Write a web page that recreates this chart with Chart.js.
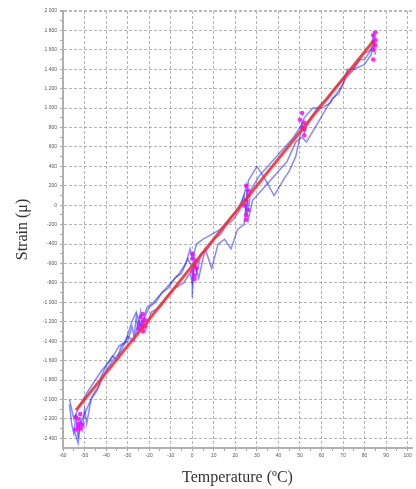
<!DOCTYPE html>
<html>
<head>
<meta charset="utf-8">
<title>Strain vs Temperature</title>
<script src="https://cdn.jsdelivr.net/npm/chart.js@4.4.1/dist/chart.umd.min.js"></script>
<style>
    html, body { margin: 0; padding: 0; background: #ffffff; }
    #chart { display: block; }
</style>
</head>
<body>
<canvas id="chart" width="416" height="489"></canvas>
<script>
// Axis ticks
const xTicks = [-60, -55, -50, -45, -40, -35, -30, -25, -20, -15, -10, -5, 0, 5, 10, 15, 20, 25, 30, 35, 40, 45, 50, 55, 60, 65, 70, 75, 80, 85, 90, 95, 100];
const yTicks = [-2400, -2300, -2200, -2100, -2000, -1900, -1800, -1700, -1600, -1500, -1400, -1300, -1200, -1100, -1000, -900, -800, -700, -600, -500, -400, -300, -200, -100, 0, 100, 200, 300, 400, 500, 600, 700, 800, 900, 1000, 1100, 1200, 1300, 1400, 1500, 1600, 1700, 1800, 1900, 2000];

// Blue measurement traces (temperature, strain)
const traceATemp = [-57, -56, -55, -54, -53, -52, -51, -50, -49, -47, -44, -42, -40, -37, -35, -33, -30, -28, -27, -26, -25, -24, -23, -22, -20, -17, -14, -11, -8, -5, -2, 0, 0, 1, 2, 4, 7, 10, 13, 16, 19, 22, 24, 25, 26, 30, 33, 38, 42, 45, 48, 50, 51, 52, 55, 58, 60, 63, 66, 70, 74, 78, 80, 83, 84, 85, 84];
const traceAStrain = [-2050, -2250, -2350, -2150, -2400, -2200, -2300, -2100, -2250, -2000, -1900, -1750, -1650, -1550, -1600, -1450, -1400, -1250, -1350, -1150, -1300, -1100, -1250, -1150, -1050, -1000, -900, -850, -750, -700, -550, -650, -950, -500, -700, -500, -450, -350, -300, -200, -150, -50, 100, -100, 250, 400, 300, 100, 250, 350, 500, 700, 850, 750, 900, 1000, 1050, 1100, 1200, 1300, 1400, 1500, 1500, 1600, 1750, 1550, 1700];

const traceBTemp = [-55, -53, -52, -50, -46, -43, -40, -37, -33, -30, -27, -25, -22, -19, -15, -12, -8, -4, -1, 0, 1, 3, 6, 9, 12, 15, 18, 21, 24, 25, 26, 28, 32, 36, 40, 44, 48, 51, 53, 57, 61, 65, 68, 71, 75, 79, 83, 85];
const traceBStrain = [-2300, -2450, -2250, -2150, -1950, -1850, -1700, -1600, -1500, -1350, -1400, -1200, -1300, -1100, -1050, -950, -850, -800, -700, -800, -600, -750, -450, -650, -400, -350, -450, -250, -200, 0, -150, 50, 150, 250, 350, 450, 650, 700, 650, 800, 950, 1100, 1150, 1300, 1400, 1550, 1600, 1650];

const traceCTemp = [-57, -55, -52, -48, -45, -42, -38, -34, -31, -28, -26, -24, -21, -18, -14, -10, -6, -3, -1, 0, 2, 5, 9, 13, 17, 21, 24, 25, 26, 27, 31, 35, 39, 43, 47, 50, 52, 56, 60, 64, 67, 70, 72, 75, 80, 83, 85];
const traceCStrain = [-2000, -2200, -2050, -1900, -1800, -1700, -1600, -1450, -1400, -1200, -1100, -1250, -1050, -1000, -900, -800, -700, -600, -450, -550, -400, -350, -300, -250, -150, -50, 100, 200, -50, 150, 300, 400, 500, 600, 700, 800, 900, 1000, 1000, 1050, 1150, 1250, 1400, 1400, 1450, 1550, 1750];

// Magenta stable points at each temperature step
const stepTemp = [-54, -53, -52, -53, -51, -54, -52, -53, -24, -23, -22, -24, -23, -22, -25, -23, 0, 1, 0, 2, 1, 0, 2, 1, 25, 25, 26, 25, 26, 24, 25, 26, 51, 52, 51, 52, 50, 52, 84, 85, 84, 85, 84, 85, 84];
const stepStrain = [-2180, -2250, -2300, -2200, -2260, -2310, -2150, -2280, -1150, -1200, -1250, -1230, -1120, -1180, -1270, -1300, -550, -620, -680, -580, -720, -500, -650, -760, 50, -100, 150, 200, -50, 0, -150, 100, 800, 850, 950, 720, 880, 780, 1600, 1700, 1750, 1650, 1500, 1780, 1680];

// Red linear fit
const fitTemp = [-54, 84];
const fitStrain = [-2110, 1690];

function toPoints(xs, ys) {
    return xs.map((x, i) => ({ x: x, y: ys[i] }));
}

// Format like "2 000", "-1 400"
function fmtThousands(v) {
    const a = Math.abs(v);
    let s = String(a);
    if (a >= 1000) {
        s = Math.floor(a / 1000) + ' ' + String(a % 1000).padStart(3, '0');
    }
    return (v < 0 ? '-' : '') + s;
}

const gridColor = 'rgba(130, 130, 130, 0.6)';
const blue = 'rgba(40, 40, 255, 0.55)';
const ctx = document.getElementById('chart').getContext('2d');

new Chart(ctx, {
    type: 'scatter',
    data: {
        datasets: [
            {
                label: 'Fit',
                data: toPoints(fitTemp, fitStrain),
                showLine: true,
                borderColor: 'rgba(255, 40, 40, 0.88)',
                borderWidth: 3,
                pointRadius: 0
            },
            {
                label: 'Steps',
                data: toPoints(stepTemp, stepStrain),
                backgroundColor: 'rgba(255, 0, 255, 0.85)',
                borderColor: 'rgba(255, 0, 255, 0.85)',
                pointRadius: 2.2,
                borderWidth: 0
            },
            {
                label: 'A',
                data: toPoints(traceATemp, traceAStrain),
                showLine: true,
                borderColor: blue,
                borderWidth: 1.5,
                pointRadius: 0
            },
            {
                label: 'B',
                data: toPoints(traceBTemp, traceBStrain),
                showLine: true,
                borderColor: blue,
                borderWidth: 1.5,
                pointRadius: 0
            },
            {
                label: 'C',
                data: toPoints(traceCTemp, traceCStrain),
                showLine: true,
                borderColor: blue,
                borderWidth: 1.5,
                pointRadius: 0
            }
        ]
    },
    options: {
        responsive: false,
        animation: false,
        devicePixelRatio: 1,
        layout: { padding: { left: 9, top: 11, right: 0, bottom: 0 } },
        plugins: {
            legend: { display: false },
            tooltip: { enabled: false }
        },
        scales: {
            x: {
                type: 'linear',
                min: -60,
                max: 102,
                afterBuildTicks: (scale) => { scale.ticks = xTicks.map(v => ({ value: v })); },
                afterFit: (scale) => { scale.height = 41; },
                ticks: {
                    autoSkip: false,
                    maxRotation: 0,
                    padding: 2,
                    color: '#555',
                    font: { family: 'Arial', size: 5 },
                    callback: (v) => (v % 10 === 0 ? String(v) : '')
                },
                grid: {
                    color: (c) => (c.tick && c.tick.value % 10 === 0 ? gridColor : 'rgba(0,0,0,0)'),
                    tickColor: 'rgba(130,130,130,0.7)',
                    tickLength: 3,
                    lineWidth: 1
                },
                border: { color: 'rgba(170,170,170,0.9)', width: 2, dash: [3, 2] },
                title: {
                    display: true,
                    text: 'Temperature (ºC)',
                    color: '#333',
                    font: { family: 'Liberation Serif', size: 16 },
                    padding: { top: 0, bottom: 2 }
                }
            },
            y: {
                type: 'linear',
                min: -2500,
                max: 2000,
                afterBuildTicks: (scale) => { scale.ticks = yTicks.map(v => ({ value: v })); },
                afterFit: (scale) => { scale.width = 54; },
                ticks: {
                    autoSkip: false,
                    padding: 3,
                    color: '#555',
                    font: { family: 'Arial', size: 5 },
                    callback: (v) => (v % 200 === 0 ? fmtThousands(v) : '')
                },
                grid: {
                    color: (c) => {
                        if (!c.tick) return gridColor;
                        if (c.tick.value === 2000) return 'rgba(180,180,180,0.9)';
                        return c.tick.value % 200 === 0 ? gridColor : 'rgba(0,0,0,0)';
                    },
                    lineWidth: (c) => (c.tick && c.tick.value === 2000 ? 2 : 1),
                    tickColor: 'rgba(130,130,130,0.7)',
                    tickLength: 3
                },
                border: { color: 'rgba(170,170,170,0.9)', width: 2, dash: [3, 2] },
                title: {
                    display: true,
                    text: 'Strain (μ)',
                    color: '#333',
                    font: { family: 'Liberation Serif', size: 16 },
                    padding: { top: 4, bottom: 4 }
                }
            }
        }
    }
});
</script>
</body>
</html>
